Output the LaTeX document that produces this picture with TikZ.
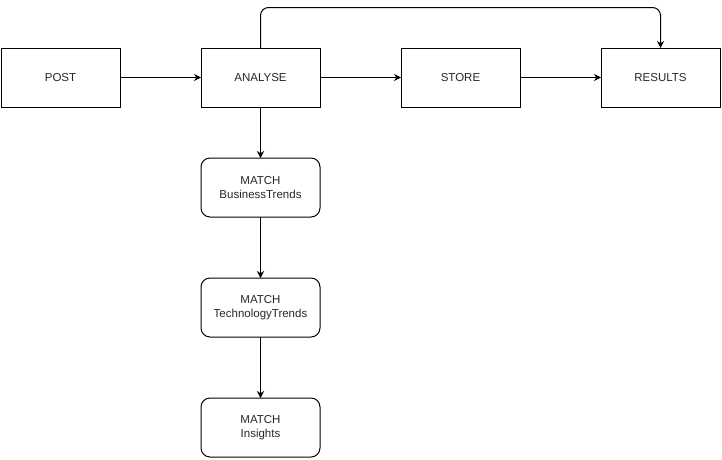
\documentclass[tikz,border=0pt]{standalone}
\usepackage{fontspec}
\setmainfont{Liberation Sans}
\usepackage{tikz}
\usetikzlibrary{positioning, arrows.meta, calc}

\begin{document}
\begin{tikzpicture}[x=1pt, y=1pt]
	\tikzstyle{process} = [rectangle, minimum width=119pt, minimum height=59pt, 
	text centered, draw=black, line width=1pt, inner sep=0pt, outer sep=0pt, 
	font=\fontsize{11.5}{14}\selectfont, text=black!85]
	\tikzstyle{match} = [process, rounded corners=9pt, align=center]
	\tikzstyle{arrow} = [line width=1pt, -{Stealth[length=7pt, width=7pt]}]
	\useasboundingbox (0,0) rectangle (722,-459);
	\node (post) [process] at (60.5,-77.5) {POST};
	\node (analyse) [process, right=81pt of post] {ANALYSE};
	\node (store) [process, right=81pt of analyse] {STORE};
	\node (results) [process, right=81pt of store] {RESULTS};
	\node (matchBusiness) [match, below=51pt of analyse] {MATCH\\BusinessTrends};
	\node (matchTechnology) [match, below=61pt of matchBusiness] {MATCH\\TechnologyTrends};
	\node (matchInsights) [match, below=61pt of matchTechnology] {MATCH\\Insights};
	\coordinate (topLeft) at ($(analyse.north)+(0,40.5)$);
	\draw [arrow] (post) -- (analyse);
	\draw [arrow] (analyse) -- (store);
	\draw [arrow] (store) -- (results);
	\draw [arrow, rounded corners=8pt] (analyse.north) -- (topLeft) -| (results.north);
	\draw [arrow] (analyse) -- (matchBusiness);
	\draw [arrow] (matchBusiness) -- (matchTechnology);
	\draw [arrow] (matchTechnology) -- (matchInsights);
\end{tikzpicture}
\end{document}
